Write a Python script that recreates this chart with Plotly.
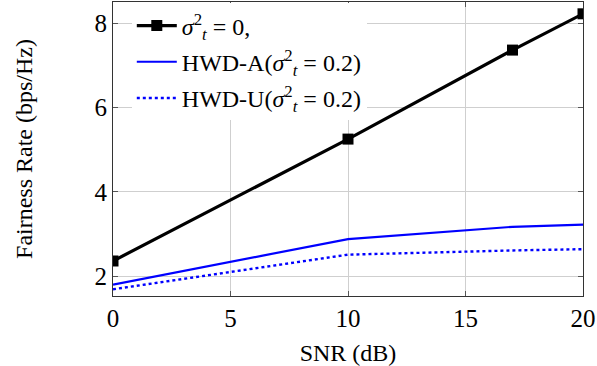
import plotly.graph_objects as go

snr = [0, 10, 17, 20]
rate_perfect = [2.36, 5.25, 7.36, 8.22]
rate_hwd_a = [1.80, 2.88, 3.17, 3.22]
rate_hwd_u = [1.69, 2.51, 2.61, 2.64]

x_ticks = [0, 5, 10, 15, 20]
y_ticks = [2, 4, 6, 8]

names = [
    "<i>σ</i><sup>2</sup><sub><i>t</i></sub> = 0,",
    "HWD-A(<i>σ</i><sup>2</sup><sub><i>t</i></sub> = 0.2)",
    "HWD-U(<i>σ</i><sup>2</sup><sub><i>t</i></sub> = 0.2)",
]

serif = "Liberation Serif, DejaVu Serif, serif"

fig = go.Figure()
fig.add_trace(go.Scatter(x=snr, y=rate_perfect, name=names[0], mode="lines+markers",
                         line=dict(color="black", width=3.2),
                         marker=dict(symbol="square", size=11, color="black"),
                         legendgroup="a"))
fig.add_trace(go.Scatter(x=snr, y=rate_hwd_a, name=names[1], mode="lines",
                         line=dict(color="#0000ff", width=2.2), legendgroup="b"))
fig.add_trace(go.Scatter(x=snr, y=rate_hwd_u, name=names[2], mode="lines",
                         line=dict(color="#0000ff", width=2.4, dash="dot"), legendgroup="c"))

axis_common = dict(showline=True, linecolor="#333333", linewidth=1.2, mirror="ticks",
                   ticks="inside", ticklen=5, tickcolor="#555555",
                   showgrid=True, gridcolor="#cfcfcf", gridwidth=1, zeroline=False,
                   tickfont=dict(family=serif, size=25, color="black"))

fig.update_layout(
    width=597, height=366,
    margin=dict(l=113, r=14, t=2, b=70),
    paper_bgcolor="white", plot_bgcolor="white",
    font=dict(family=serif, color="black"),
    xaxis=dict(range=[0, 20], tickvals=x_ticks,
               title=dict(text="SNR (dB)", font=dict(family=serif, size=24), standoff=14),
               **axis_common),
    yaxis=dict(range=[1.53, 8.5], tickvals=y_ticks,
               title=dict(text="Fairness Rate (bps/Hz)", font=dict(family=serif, size=24), standoff=55),
               **axis_common),
    legend=dict(x=0.04, y=0.995, xanchor="left", yanchor="top",
                bgcolor="white", borderwidth=0,
                font=dict(family=serif, size=24, color="black"),
                traceorder="grouped", tracegroupgap=2, itemwidth=40),
    showlegend=True,
)

fig.write_html("out.html", config={"displayModeBar": False},
               post_script="document.body.style.margin='0';document.body.style.overflow='hidden';")
